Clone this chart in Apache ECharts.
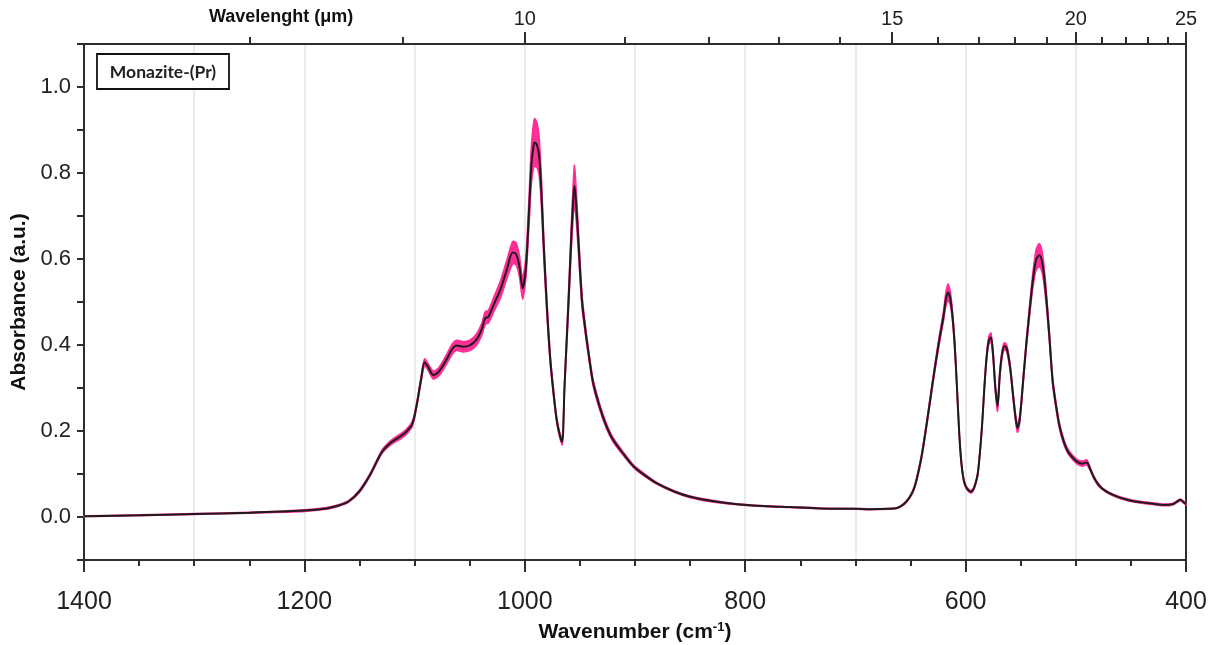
<!DOCTYPE html>
<html><head><meta charset="utf-8">
<script src="https://cdn.jsdelivr.net/npm/echarts@6/dist/echarts.min.js"></script>
<style>html,body{margin:0;padding:0;background:#fff}#c{width:1216px;height:645px}</style>
</head><body><div id="c"></div>
<script>
// Wavenumber (cm-1)
const wavenumber = [1400,1350,1300,1250,1200,1180,1170,1160,1150,1140,1130,1122,1115,1108,1102,1098,1094,1091,1088,1083,1078,1072,1066,1062,1056,1050,1044,1039,1036,1033,1028,1022,1016,1011,1008,1005,1002,999,996,994,992,991,989,987,985,983,980,977,974,971,968,966,964,962,960,958,956,955,954,952,950,948,946,944,941,938,932,926,920,910,901,890,880,865,850,830,805,780,760,732,700,686,670,662,656,651,647,644,640,636,632,628,624,620,618,616,614,612,610,608,606,604,602,600,597,595,593,591,589,587,585,583,581,579,577,575,573,571,569,567,565,563,561,559,557,555,553,551,548,545,542,539,536,533,530,527,524,521,518,515,511,507,502,498,494,490,487,484,480,476,470,460,450,440,430,420,412,408,405,402,400];
// Mean absorbance (a.u.)
const absorbance = [0.002,0.004,0.007,0.010,0.015,0.020,0.026,0.036,0.060,0.100,0.150,0.172,0.184,0.197,0.217,0.262,0.322,0.360,0.350,0.330,0.338,0.362,0.390,0.399,0.396,0.399,0.412,0.437,0.462,0.466,0.495,0.530,0.578,0.615,0.612,0.585,0.532,0.580,0.720,0.820,0.865,0.871,0.865,0.840,0.760,0.640,0.490,0.370,0.290,0.225,0.188,0.175,0.300,0.410,0.520,0.640,0.740,0.770,0.750,0.670,0.580,0.500,0.455,0.415,0.360,0.312,0.256,0.212,0.180,0.145,0.117,0.095,0.078,0.060,0.047,0.037,0.029,0.025,0.023,0.020,0.019,0.018,0.019,0.021,0.030,0.045,0.065,0.092,0.140,0.205,0.275,0.345,0.410,0.468,0.505,0.522,0.510,0.470,0.405,0.310,0.205,0.130,0.090,0.072,0.061,0.059,0.064,0.078,0.100,0.150,0.215,0.300,0.370,0.410,0.418,0.375,0.300,0.258,0.330,0.378,0.397,0.394,0.372,0.335,0.285,0.238,0.207,0.225,0.310,0.400,0.478,0.550,0.598,0.609,0.585,0.515,0.420,0.316,0.260,0.214,0.176,0.152,0.136,0.127,0.124,0.127,0.112,0.094,0.077,0.066,0.056,0.045,0.038,0.034,0.031,0.028,0.030,0.036,0.040,0.034,0.030];
// Half-width of the pink spread band (a.u.)
const bandHalfWidth = [0.001,0.001,0.001,0.001,0.002,0.002,0.002,0.002,0.003,0.003,0.004,0.005,0.006,0.006,0.006,0.006,0.007,0.008,0.008,0.009,0.010,0.011,0.012,0.012,0.012,0.012,0.013,0.014,0.015,0.015,0.017,0.020,0.022,0.026,0.026,0.025,0.025,0.025,0.035,0.045,0.052,0.056,0.052,0.045,0.035,0.025,0.018,0.012,0.008,0.006,0.006,0.007,0.010,0.015,0.022,0.030,0.040,0.048,0.040,0.030,0.022,0.016,0.012,0.010,0.009,0.008,0.007,0.006,0.005,0.004,0.003,0.003,0.002,0.002,0.002,0.002,0.001,0.001,0.001,0.001,0.001,0.001,0.001,0.001,0.002,0.002,0.003,0.004,0.005,0.006,0.007,0.008,0.010,0.012,0.016,0.020,0.016,0.012,0.010,0.008,0.007,0.006,0.004,0.003,0.003,0.003,0.003,0.003,0.004,0.005,0.006,0.007,0.008,0.009,0.010,0.009,0.010,0.012,0.009,0.008,0.008,0.008,0.008,0.008,0.008,0.008,0.010,0.009,0.009,0.010,0.013,0.018,0.024,0.027,0.024,0.018,0.012,0.009,0.008,0.007,0.006,0.005,0.005,0.005,0.006,0.006,0.004,0.003,0.003,0.002,0.002,0.002,0.002,0.002,0.002,0.002,0.002,0.002,0.002,0.002,0.002];
// Top axis: wavelength ticks (µm)
const wavelengthMajor = [10, 15, 20, 25];
const wavelengthMinor = [8, 9, 11, 12, 13, 14, 16, 17, 18, 19, 21, 22, 23, 24];
const xLabel = 'Wavenumber (cm';
const yLabel = 'Absorbance (a.u.)';
const topLabel = 'Wavelenght (\u03bcm)';
const sampleName = 'Monazite-(Pr)';

const AX = '#2e2e2e';
const FONT = '"Liberation Sans", Arial, sans-serif';
const chart = echarts.init(document.getElementById('c'), null, {renderer: 'canvas'});
const toWn = um => 10000 / um;

const lineData = wavenumber.map((w, i) => [w, absorbance[i]]);

const xCommon = {type: 'value', min: 400, max: 1400, inverse: true};

chart.setOption({
  animation: false,
  backgroundColor: '#fff',
  grid: {left: 84, right: 30, top: 44, bottom: 85, containLabel: false, outerBoundsMode: 'none'},
  xAxis: [
    Object.assign({}, xCommon, {
      position: 'bottom', interval: 200,
      axisLine: {show: true, onZero: false, lineStyle: {color: AX, width: 2}},
      axisTick: {show: true, inside: false, length: 12, lineStyle: {color: AX, width: 2}},
      minorTick: {show: true, splitNumber: 4, length: 6, lineStyle: {color: AX, width: 2}},
      axisLabel: {color: '#222', fontSize: 25, fontFamily: FONT, margin: 30, formatter: v => String(v)},
      splitLine: {show: false},
      name: '{a|' + xLabel + '}{s|-1}{a|)}',
      nameLocation: 'middle', nameGap: 61,
      nameTextStyle: {
        rich: {
          a: {fontSize: 21, fontWeight: 'bold', fontFamily: FONT, color: '#111'},
          s: {fontSize: 13, fontWeight: 'bold', fontFamily: FONT, color: '#111', verticalAlign: 'top', padding: [0, 0, 10, 0]}
        }
      }
    }),
    Object.assign({}, xCommon, {
      position: 'bottom', interval: 100,
      axisLine: {show: false, onZero: false}, axisTick: {show: false}, axisLabel: {show: false},
      splitLine: {show: true, lineStyle: {color: '#e4e4e4', width: 1.5}}
    }),
    Object.assign({}, xCommon, {
      position: 'top',
      axisLine: {show: true, onZero: false, lineStyle: {color: AX, width: 2}},
      axisTick: {show: true, inside: false, length: 12, customValues: wavelengthMajor.map(toWn), lineStyle: {color: AX, width: 2}},
      axisLabel: {show: true, customValues: wavelengthMajor.map(toWn), formatter: v => String(Math.round(10000 / v)),
        color: '#222', fontSize: 20, fontFamily: FONT, margin: 15},
      splitLine: {show: false}
    }),
    Object.assign({}, xCommon, {
      position: 'top',
      axisLine: {show: false, onZero: false},
      axisTick: {show: true, inside: false, length: 7, customValues: wavelengthMinor.map(toWn), lineStyle: {color: AX, width: 2}},
      axisLabel: {show: false},
      splitLine: {show: false}
    })
  ],
  yAxis: [
    {
      type: 'value', min: -0.1, max: 1.1, interval: 0.1, position: 'left',
      axisLine: {show: true, onZero: false, lineStyle: {color: AX, width: 2}},
      axisTick: {show: true, inside: false, length: 7, lineStyle: {color: AX, width: 2}},
      axisLabel: {
        color: '#222', fontSize: 22, fontFamily: FONT, margin: 13,
        formatter: v => { const k = Math.round(v * 10); return (k % 2 === 0 && k >= 0 && k <= 10) ? (k / 10).toFixed(1) : ''; }
      },
      splitLine: {show: false},
      name: yLabel, nameLocation: 'middle', nameGap: 49, nameRotate: 90,
      nameTextStyle: {fontSize: 21, fontWeight: 'bold', fontFamily: FONT, color: '#111'}
    },
    {
      type: 'value', min: -0.1, max: 1.1, position: 'right',
      axisLine: {show: true, onZero: false, lineStyle: {color: AX, width: 2}},
      axisTick: {show: false}, axisLabel: {show: false}, splitLine: {show: false}
    }
  ],
  series: [
    {
      type: 'custom', xAxisIndex: 0, yAxisIndex: 0, silent: true, z: 2,
      data: [[1400, 0]],
      renderItem: function (params, api) {
        const pts = [];
        for (let i = 0; i < wavenumber.length; i++) pts.push(api.coord([wavenumber[i], absorbance[i] + bandHalfWidth[i]]));
        for (let i = wavenumber.length - 1; i >= 0; i--) pts.push(api.coord([wavenumber[i], absorbance[i] - bandHalfWidth[i]]));
        return {type: 'polygon', shape: {points: pts, smooth: 0.25}, style: {fill: '#ff2d96', stroke: '#ff2d96', lineWidth: 1.5}};
      }
    },
    {
      type: 'line', xAxisIndex: 0, yAxisIndex: 0, data: lineData, z: 3,
      showSymbol: false, smooth: 0.3,
      lineStyle: {color: '#1c1c1c', width: 2}
    }
  ],
  graphic: [
    {type: 'text', left: 282 - 73, top: 8, style: {text: topLabel, font: 'bold 18px ' + FONT, fill: '#111'}},
    {type: 'rect', shape: {x: 97, y: 54, width: 132, height: 35}, style: {fill: '#fff', stroke: '#111', lineWidth: 1.8}, z: 10},
    {type: 'text', x: 163, y: 72, z: 11, style: {text: sampleName, font: 'bold 17.5px Lato, "Open Sans", sans-serif', fill: '#222', align: 'center', verticalAlign: 'middle'}}
  ]
});
</script></body></html>
